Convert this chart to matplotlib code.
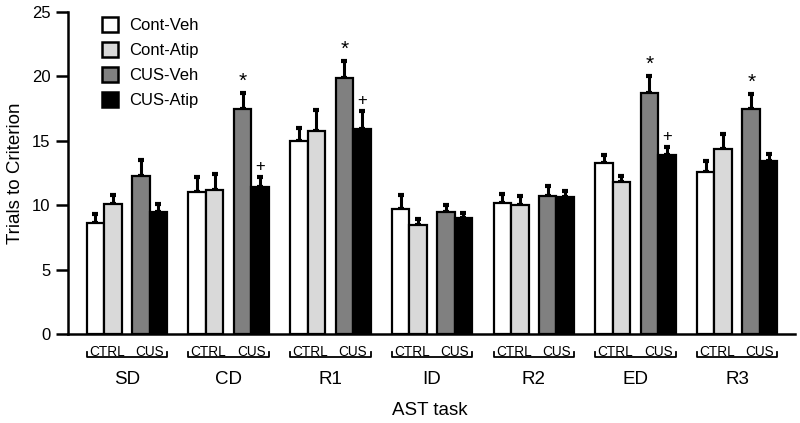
import numpy as np
import matplotlib.pyplot as plt
from matplotlib.patches import Patch

plt.rcParams['font.family'] = ['Liberation Sans', 'DejaVu Sans']

# data
tasks = ["SD", "CD", "R1", "ID", "R2", "ED", "R3"]
groups = ["Cont-Veh", "Cont-Atip", "CUS-Veh", "CUS-Atip"]
cont_veh = [8.6, 11.0, 15.0, 9.7, 10.2, 13.3, 12.6]
cont_atip = [10.1, 11.2, 15.8, 8.5, 10.0, 11.8, 14.4]
cus_veh = [12.3, 17.5, 19.9, 9.5, 10.7, 18.7, 17.5]
cus_atip = [9.5, 11.4, 15.9, 9.0, 10.6, 13.9, 13.4]
cont_veh_err = [0.7, 1.2, 1.0, 1.1, 0.7, 0.6, 0.8]
cont_atip_err = [0.7, 1.2, 1.6, 0.4, 0.7, 0.5, 1.1]
cus_veh_err = [1.2, 1.2, 1.3, 0.5, 0.8, 1.3, 1.1]
cus_atip_err = [0.6, 0.8, 1.4, 0.4, 0.5, 0.6, 0.6]
stars = [False, True, True, False, False, True, True]   # CUS-Veh
pluses = [False, True, True, False, False, True, False]  # CUS-Atip

colors = ["white", "#d9d9d9", "#808080", "black"]
values = [cont_veh, cont_atip, cus_veh, cus_atip]
errors = [cont_veh_err, cont_atip_err, cus_veh_err, cus_atip_err]

w = 0.172
gap = 0.103
offsets = [-gap / 2 - 1.5 * w, -gap / 2 - 0.5 * w, gap / 2 + 0.5 * w, gap / 2 + 1.5 * w]

fig = plt.figure(figsize=(8, 4.23), dpi=100)
ax = fig.add_axes([0.085, 0.2104, 0.909, 0.7612])
x = np.arange(len(tasks))

for vals, errs, col, off in zip(values, errors, colors, offsets):
    ax.bar(x + off, vals, w, color=col, edgecolor="black", linewidth=1.6, zorder=2)
    ax.errorbar(x + off, vals, yerr=[np.zeros(len(vals)), errs], fmt="none",
                ecolor="black", elinewidth=2.2, capsize=2.5, capthick=3, zorder=1)

for i in range(len(tasks)):
    if stars[i]:
        ax.text(x[i] + offsets[2], cus_veh[i] + cus_veh_err[i] + 0.2, "*",
                ha="center", va="bottom", fontsize=15)
    if pluses[i]:
        ax.text(x[i] + offsets[3], cus_atip[i] + cus_atip_err[i] + 0.25, "+",
                ha="center", va="bottom", fontsize=12)

ax.set_xlim(-0.578, 6.57)
ax.set_ylim(0, 25)
ax.set_yticks([0, 5, 10, 15, 20, 25])
ax.tick_params(axis="y", length=8.5, width=1.8, labelsize=12, pad=4)
ax.set_xticks([])
for s in ["top", "right"]:
    ax.spines[s].set_visible(False)
ax.spines["left"].set_linewidth(1.8)
ax.spines["bottom"].set_linewidth(1.8)
ax.set_ylabel("Trials to Criterion", fontsize=13.5, labelpad=6)

# bracket labels below the axis
tr = ax.get_xaxis_transform()
for i, name in enumerate(tasks):
    left = x[i] + offsets[0] - w / 2
    right = x[i] + offsets[3] + w / 2
    ax.plot([left, left, right, right], [-0.056, -0.072, -0.072, -0.056],
            transform=tr, color="black", lw=1.3, clip_on=False)
    ax.text(x[i] + (offsets[0] + offsets[1]) / 2 + 0.026, -0.068, "CTRL", transform=tr,
            ha="center", va="baseline", fontsize=9.8)
    ax.text(x[i] + (offsets[2] + offsets[3]) / 2, -0.068, "CUS", transform=tr,
            ha="center", va="baseline", fontsize=9.8)
    ax.text(x[i], -0.155, name, transform=tr, ha="center", va="baseline", fontsize=13.5)

fig.text(0.5375, 0.019, "AST task", ha="center", va="baseline", fontsize=13.5)

handles = [Patch(facecolor=c, edgecolor="black", linewidth=1.8) for c in colors]
ax.legend(handles, groups, loc="upper left", bbox_to_anchor=(0.119, 0.975),
          bbox_transform=fig.transFigure, frameon=False, fontsize=12,
          handlelength=0.95, handleheight=0.95, handletextpad=0.7, labelspacing=0.55,
          borderaxespad=0)

fig.savefig("out.png", dpi=100)
